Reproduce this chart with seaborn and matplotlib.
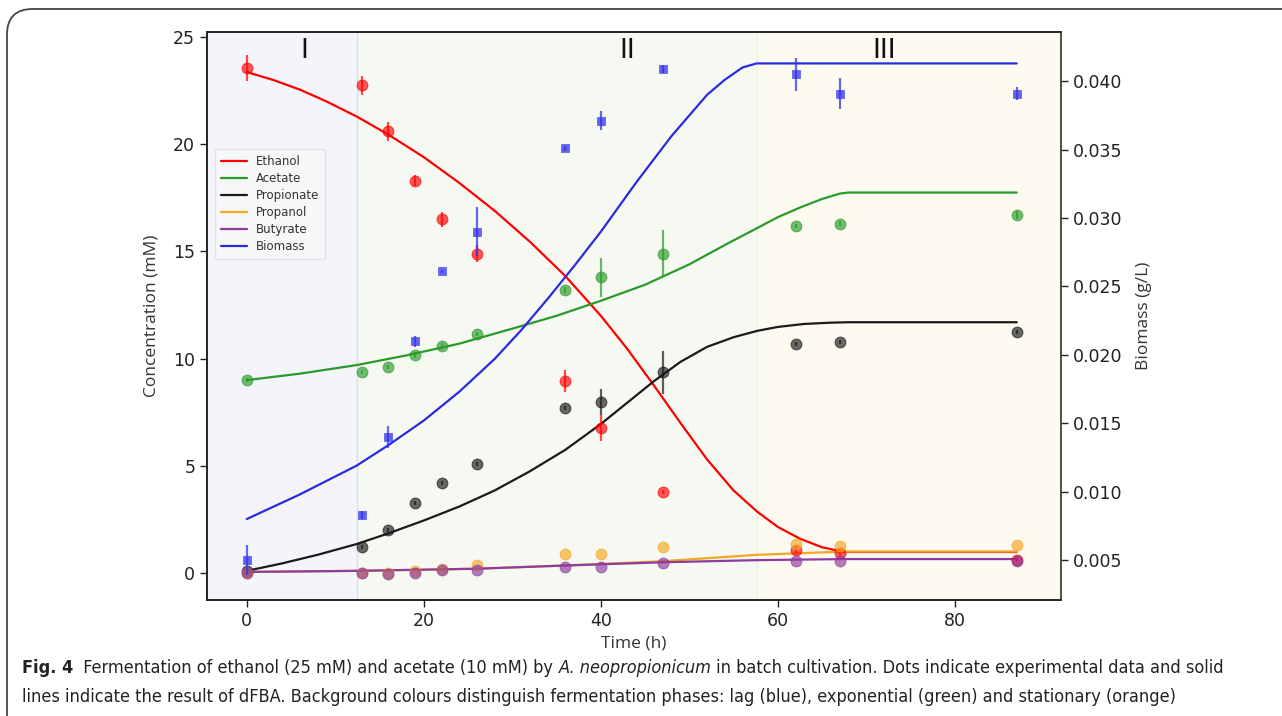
import matplotlib
matplotlib.use("Agg")
import matplotlib.pyplot as plt
from matplotlib.patches import FancyBboxPatch
import seaborn as sns
import pandas as pd

# experimental data (time in h)
t_exp = [0, 13, 16, 19, 22, 26, 36, 40, 47, 62, 67, 87]
ethanol = [23.55, 22.76, 20.6, 18.3, 16.5, 14.9, 8.95, 6.76, 3.78, 1.07, 0.93, 0.6]
ethanol_err = [0.6, 0.45, 0.45, 0.25, 0.35, 0.4, 0.5, 0.6, 0.1, 0.15, 0.1, 0.1]
acetate = [9.0, 9.38, 9.6, 10.17, 10.6, 11.15, 13.2, 13.8, 14.9, 16.2, 16.3, 16.7]
acetate_err = [0.1, 0.1, 0.1, 0.15, 0.15, 0.1, 0.15, 0.9, 1.1, 0.1, 0.1, 0.2]
propionate = [0.1, 1.2, 2.0, 3.25, 4.2, 5.1, 7.7, 7.98, 9.37, 10.7, 10.77, 11.25]
propionate_err = [0.05, 0.1, 0.1, 0.1, 0.1, 0.1, 0.1, 0.6, 1.0, 0.1, 0.1, 0.1]
propanol = [0.0, 0.0, 0.0, 0.1, 0.2, 0.35, 0.9, 0.9, 1.2, 1.35, 1.25, 1.3]
butyrate = [0.0, 0.0, -0.05, 0.0, 0.15, 0.15, 0.3, 0.3, 0.45, 0.55, 0.55, 0.55]
biomass = [0.0050, 0.0083, 0.0140, 0.0210, 0.0261, 0.0290, 0.0351, 0.0371, 0.0409, 0.0405, 0.0391, 0.0391]
biomass_err = [0.0011, 0.0003, 0.0008, 0.0004, 0.0001, 0.0018, 0.0002, 0.0007, 0.0003, 0.0012, 0.0011, 0.0005]

# dFBA model curves
t_eth = [0, 3, 6, 9, 12.4, 16, 20, 24, 28, 32, 36, 40, 43, 46, 49, 52, 55, 57.7, 60, 62.5,
         65, 67.5, 87]
m_ethanol = [23.37, 23.0, 22.55, 22.0, 21.3, 20.45, 19.4, 18.2, 16.9, 15.45, 13.85, 12.0, 10.45,
             8.75, 7.0, 5.3, 3.85, 2.85, 2.15, 1.6, 1.2, 0.98, 0.98]
t_ace = [0, 6, 12.4, 18, 24, 30, 35, 40, 45, 50, 54, 57.7, 60, 62.5, 65, 67, 68, 87]
m_acetate = [9.0, 9.3, 9.7, 10.15, 10.7, 11.4, 12.0, 12.7, 13.45, 14.4, 15.3, 16.1, 16.6,
             17.05, 17.45, 17.7, 17.75, 17.75]
t_pro = [0, 4, 8, 12.4, 16, 20, 24, 28, 32, 36, 40, 43, 46, 49, 52, 55, 57.7, 60, 63, 66, 68, 87]
m_propionate = [0.1, 0.45, 0.85, 1.35, 1.85, 2.45, 3.1, 3.85, 4.75, 5.75, 6.95, 7.95, 8.95,
                9.85, 10.55, 11.0, 11.3, 11.48, 11.62, 11.68, 11.7, 11.7]
t_low = [0, 12.4, 26, 36, 47, 57.7, 67.5, 87]
m_propanol = [0.05, 0.1, 0.2, 0.35, 0.55, 0.85, 1.0, 1.0]
m_butyrate = [0.05, 0.1, 0.2, 0.35, 0.5, 0.6, 0.65, 0.65]
t_bio = [0, 6, 12.4, 16, 20, 24, 28, 31, 34, 37, 40, 42, 44, 46, 48, 50, 52, 54, 56, 57.6, 87]
m_biomass = [0.0080, 0.0098, 0.0119, 0.0134, 0.0152, 0.0173, 0.0197, 0.0218, 0.0241, 0.0265,
             0.0290, 0.0308, 0.0326, 0.0343, 0.0360, 0.0375, 0.0390, 0.0401, 0.0410, 0.0413,
             0.0413]

phases = [(-4.5, 12.4, "#f3f5fb"), (12.4, 57.7, "#f6f9f2"), (57.7, 92, "#fdfbf0")]
phase_labels = ["I", "II", "III"]
phase_label_x = [6.5, 43.0, 72.0]

sns.set_style("ticks")
plt.rcParams["font.family"] = ["DejaVu Sans"]

fig = plt.figure(figsize=(12.82, 7.16), dpi=100)
ax = fig.add_axes([0.1615, 0.162, 0.6661, 0.793])
ax2 = ax.twinx()

for x0, x1, c in phases:
    ax.axvspan(x0, x1, color=c, zorder=0, lw=0)
ax.axvline(12.4, color="#d8e0e4", lw=1, zorder=0.5)
ax.axvline(57.7, color="#eeeedd", lw=1, zorder=0.5)
for lab, lx in zip(phase_labels, phase_label_x):
    ax.text(lx, 24.35, lab, ha="center", va="center", fontsize=19, color="#111111")

species = [
    ("Ethanol", "red", ethanol, ethanol_err, t_eth, m_ethanol),
    ("Acetate", "#2a9a2a", acetate, acetate_err, t_ace, m_acetate),
    ("Propionate", "#1a1a1a", propionate, propionate_err, t_pro, m_propionate),
    ("Propanol", "#f5a623", propanol, None, t_low, m_propanol),
    ("Butyrate", "#8e3a9e", butyrate, None, t_low, m_butyrate),
]

handles = []
for name, col, y, err, tm, ym in species:
    mdf = pd.DataFrame({"t": tm, "y": ym})
    sns.lineplot(data=mdf, x="t", y="y", ax=ax, color=col, lw=1.6)
    ln = ax.lines[-1]
    ln.set_label(name)
    handles.append(ln)
    edf = pd.DataFrame({"t": t_exp, "y": y})
    if err is not None:
        ax.errorbar(t_exp, y, yerr=err, fmt="none", ecolor=col, elinewidth=1.6, alpha=0.7, zorder=3)
    sns.scatterplot(data=edf, x="t", y="y", ax=ax, color=col, s=60, alpha=0.65,
                    edgecolor=col, linewidth=0.8, zorder=4)

bdf = pd.DataFrame({"t": t_bio, "y": m_biomass})
sns.lineplot(data=bdf, x="t", y="y", ax=ax2, color="#2b2bdd", lw=1.6)
ln = ax2.lines[-1]
ln.set_label("Biomass")
handles.append(ln)
ax2.errorbar(t_exp, biomass, yerr=biomass_err, fmt="none", ecolor="#3333ee", elinewidth=1.6, alpha=0.75)
sns.scatterplot(data=pd.DataFrame({"t": t_exp, "y": biomass}), x="t", y="y", ax=ax2,
                color="#3333ee", marker="s", s=40, alpha=0.75, edgecolor="#3333ee", linewidth=0.5)
for a in (ax, ax2):
    if a.get_legend() is not None:
        a.get_legend().remove()

ax.set_xlim(-4.5, 92)
ax.set_ylim(-1.26, 25.23)
ax2.set_ylim(0.00208, 0.04358)
ax.set_xticks([0, 20, 40, 60, 80])
ax.set_yticks([0, 5, 10, 15, 20, 25])
ax2.set_yticks([0.005, 0.010, 0.015, 0.020, 0.025, 0.030, 0.035, 0.040])
ax2.set_yticklabels([f"{v:.3f}" for v in ax2.get_yticks()])

tick_color = "#222222"
for a in (ax, ax2):
    a.tick_params(labelsize=12.5, colors=tick_color, length=5, width=1)
    for s in a.spines.values():
        s.set_visible(True)
        s.set_color("#222222")
        s.set_linewidth(1.2)
ax2.spines["right"].set_color("#555555")

lab_font = {"family": ["Open Sans", "DejaVu Sans"], "size": 12.5, "color": "#333333"}
ax.set_xlabel("Time (h)", fontdict=lab_font, labelpad=4)
ax.set_ylabel("Concentration (mM)", fontdict=lab_font, labelpad=10)
ax2.set_ylabel("Biomass (g/L)", fontdict=lab_font, labelpad=10)

leg = ax2.legend(handles=handles, labels=[h.get_label() for h in handles], loc="upper left",
                 bbox_to_anchor=(0.002, 0.805), fontsize=8.5, frameon=True, handlelength=2.2,
                 borderpad=0.5, labelspacing=0.35)
leg.get_frame().set_edgecolor("#dddddd")
leg.get_frame().set_facecolor("#f8f8f8")
for txt in leg.get_texts():
    txt.set_color("#333333")

# caption frame
frame = FancyBboxPatch((7 / 1282, -0.05), 1.1, 1.0 - 9 / 716 + 0.05,
                       boxstyle="round,pad=0,rounding_size=0.02", transform=fig.transFigure,
                       fill=False, edgecolor="#444444", lw=1.3, clip_on=False,
                       mutation_aspect=1282 / 716)
fig.patches.append(frame)

# caption with mixed styles
cap_family = ["DejaVu Sans"]
cap_size = 13.0
line1 = [("Fig. 4", "bold", "normal"),
         ("  Fermentation of ethanol (25 mM) and acetate (10 mM) by ", "normal", "normal"),
         ("A. neopropionicum", "normal", "italic"),
         (" in batch cultivation. Dots indicate experimental data and solid", "normal", "normal")]
line2 = [("lines indicate the result of dFBA. Background colours distinguish fermentation phases: "
          "lag (blue), exponential (green) and stationary (orange)", "normal", "normal")]

renderer = fig.canvas.get_renderer()


def draw_line(pieces, x_px, y_px):
    x = x_px
    for s, w, st in pieces:
        t = fig.text(x / 1282, 1 - y_px / 716, s, fontsize=cap_size, fontweight=w, fontstyle=st,
                     fontstretch="condensed", family=cap_family, color="#222222",
                     va="center", ha="left")
        bb = t.get_window_extent(renderer=renderer)
        x = bb.x1


draw_line(line1, 22, 668)
draw_line(line2, 22, 697)

fig.savefig("out.png", dpi=100)
